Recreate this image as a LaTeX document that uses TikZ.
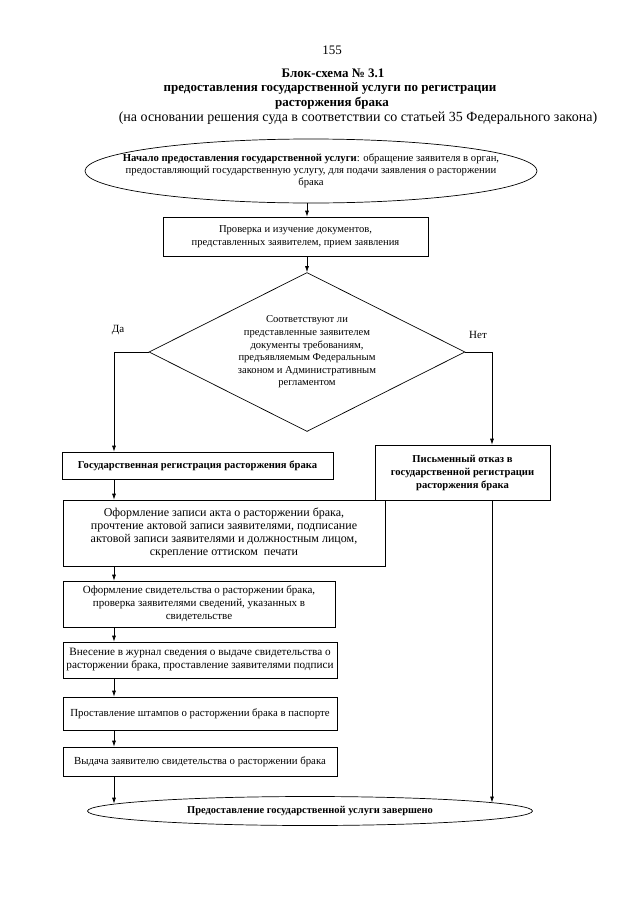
\documentclass[tikz,border=0pt]{standalone}
\usepackage{fontspec}
\setmainfont{Liberation Serif}
\usetikzlibrary{shapes.geometric,arrows.meta}
\begin{document}
\begin{tikzpicture}[x=1pt,y=-1pt,
  box/.style={draw,line width=0.7pt,inner sep=0pt,align=center,font=\fontsize{10.8}{13}\selectfont},
  bbox/.style={box,font=\bfseries\fontsize{10.6}{13}\selectfont},
  arr/.style={-{Latex[length=6pt,width=4pt]},line width=0.7pt},
  ttl/.style={inner sep=0pt,font=\bfseries\fontsize{13}{15}\selectfont},
  sub/.style={inner sep=0pt,font=\fontsize{13}{15}\selectfont}]
\useasboundingbox (0,0) rectangle (640,905);
\coordinate (colL) at (114,0);
\coordinate (colR) at (492,0);
\coordinate (cm) at (307,0);

\node[sub] (pg) at (332,50) {155};
\node[ttl] (t1) at (333,73) {Блок-схема № 3.1};
\node[ttl] (t2) at (330,88) {предоставления государственной услуги по регистрации};
\node[ttl] (t3) at (332,103) {расторжения брака};
\node[sub,font=\fontsize{14}{15}\selectfont] (t4) at (358,118) {(на основании решения суда в соответствии со статьей 35 Федерального закона)};

\node[ellipse,draw,line width=0.7pt,minimum width=452pt,minimum height=64pt,inner sep=0pt,
  label={[align=center,font=\fontsize{10.7}{12}\selectfont]center:{\textbf{Начало предоставления государственной услуги}: обращение заявителя в орган,\\ предоставляющий государственную услугу, для подачи заявления о расторжении\\ брака}}] (start) at (311,171) {};

\node[box,font=\fontsize{10.6}{13}\selectfont,minimum width=265pt,minimum height=39pt] (b2) at (295.5,236.5) {Проверка и изучение документов,\\ представленных заявителем, прием заявления};

\node[diamond,draw,line width=0.7pt,minimum width=316pt,minimum height=159pt,inner sep=0pt,
  label={[align=center,font=\fontsize{10.6}{12.6}\selectfont]center:{Соответствуют ли\\ представленные заявителем\\ документы требованиям,\\ предъявляемым Федеральным\\ законом и Административным\\ регламентом}}] (dia) at (307,352) {};

\node[sub,font=\fontsize{11}{13}\selectfont] (yes) at (118,330) {Да};
\node[sub,font=\fontsize{11}{13}\selectfont] (no) at (478,335) {Нет};

\node[bbox,minimum width=271pt,minimum height=27pt] (b3) at (197.5,465.5) {Государственная регистрация расторжения брака};
\node[bbox,minimum width=175pt,minimum height=55pt] (rb) at (462.5,472.5) {Письменный отказ в\\ государственной регистрации\\ расторжения брака};

\node[box,font=\fontsize{12}{13}\selectfont,minimum width=322pt,minimum height=66pt] (b4) at (224,533) {Оформление записи акта о расторжении брака,\\ прочтение актовой записи заявителями, подписание\\ актовой записи заявителями и должностным лицом,\\ скрепление оттиском~ печати};
\node[box,font=\fontsize{11}{13}\selectfont,minimum width=272pt,minimum height=46pt] (b5) at (199,604) {Оформление свидетельства о расторжении брака,\\ проверка заявителями сведений, указанных в\\ свидетельстве};
\node[box,font=\fontsize{11.2}{13}\selectfont,minimum width=274pt,minimum height=36pt] (b6) at (200,660) {Внесение в журнал сведения о выдаче свидетельства о\\ расторжении брака, проставление заявителями подписи};
\node[box,minimum width=274pt,minimum height=33pt] (b7) at (200,713.5) {Проставление штампов о расторжении брака в паспорте};
\node[box,minimum width=274pt,minimum height=29pt] (b8) at (200,761.5) {Выдача заявителю свидетельства о расторжении брака};

\node[ellipse,draw,line width=0.7pt,minimum width=445pt,minimum height=29pt,inner sep=0pt,outer sep=0pt,
  label={[font=\bfseries\fontsize{10.5}{12}\selectfont]center:{Предоставление государственной услуги завершено}}] (end) at (310,811) {};

\coordinate (eL) at (114,803.7);
\coordinate (eR) at (492,802.5);

\draw[arr] (start.south -| cm) -- (cm |- b2.north);
\draw[arr] (b2.south -| cm) -- (dia.north);
\draw[arr] (dia.west) -| (colL |- b3.north);
\draw[arr] (dia.east) -| (colR |- rb.north);
\draw[arr] (b3.south -| colL) -- (colL |- b4.north);
\draw[arr] (b4.south -| colL) -- (colL |- b5.north);
\draw[arr] (b5.south -| colL) -- (colL |- b6.north);
\draw[arr] (b6.south -| colL) -- (colL |- b7.north);
\draw[arr] (b7.south -| colL) -- (colL |- b8.north);
\draw[arr] (b8.south -| colL) -- (eL);
\draw[arr] (rb.south -| colR) -- (eR);
\end{tikzpicture}
\end{document}
